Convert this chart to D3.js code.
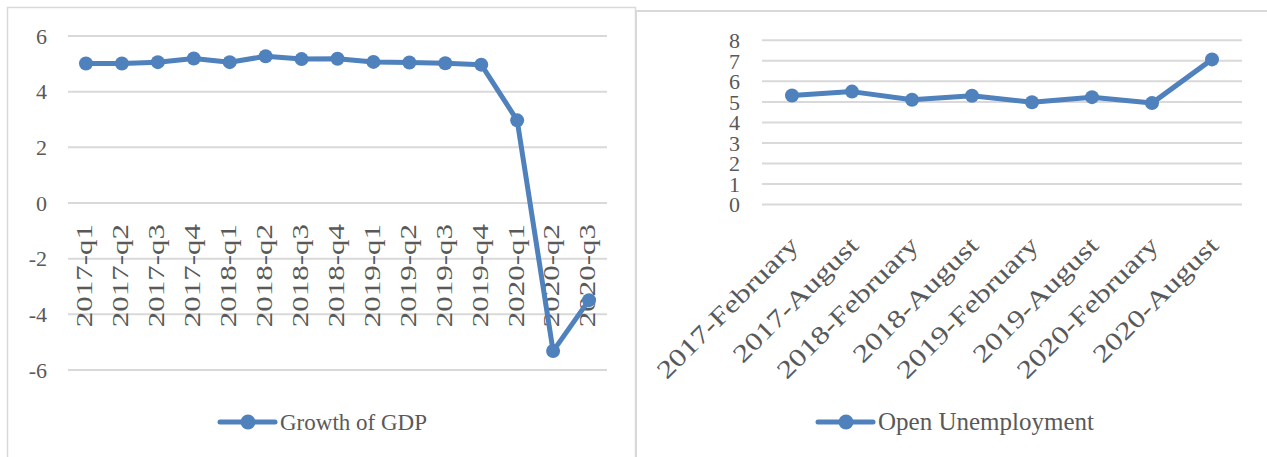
<!DOCTYPE html>
<html>
<head>
<meta charset="utf-8">
<script src="https://cdn.jsdelivr.net/npm/d3@7"></script>
<style>
  body { margin: 0; background: #fff; }
  text { font-family: "Liberation Serif", "DejaVu Serif", serif; fill: #595959; }
</style>
</head>
<body>
<div class="chart"></div>
<script>
// data
const gdpQuarters = ["2017-q1","2017-q2","2017-q3","2017-q4","2018-q1","2018-q2","2018-q3","2018-q4",
                     "2019-q1","2019-q2","2019-q3","2019-q4","2020-q1","2020-q2","2020-q3"];
const gdpGrowth = [5.01, 5.01, 5.06, 5.19, 5.06, 5.27, 5.17, 5.18, 5.07, 5.05, 5.02, 4.97, 2.97, -5.32, -3.49];
const gdpTicks = [-6, -4, -2, 0, 2, 4, 6];

const unempPeriods = ["2017-February","2017-August","2018-February","2018-August",
                      "2019-February","2019-August","2020-February","2020-August"];
const unempRate = [5.31, 5.5, 5.1, 5.3, 4.98, 5.23, 4.94, 7.07];
const unempTicks = [0, 1, 2, 3, 4, 5, 6, 7, 8];

const blue = "#4f81bd", grid = "#d9d9d9";

const svg = d3.select('.chart')
    .append('svg')
    .attr("width", 1267)
    .attr("height", 457);

// panel frames
svg.append("rect").attr("x", 7.5).attr("y", 7.5).attr("width", 628).attr("height", 470)
    .attr("fill", "none").attr("stroke", grid).attr("stroke-width", 1.5);
svg.append("rect").attr("x", 636).attr("y", 11).attr("width", 660).attr("height", 470)
    .attr("fill", "none").attr("stroke", grid).attr("stroke-width", 2);

function drawChart(opt) {
    const g = svg.append("g");
    const x = d3.scaleBand().domain(opt.cats).range(opt.xr).padding(0);
    const y = d3.scaleLinear().domain(opt.yd).range(opt.yr);
    const cx = d => x(d) + x.bandwidth() / 2;

    // gridlines + y labels
    g.selectAll("line.grid").data(opt.ticks).enter().append("line")
        .attr("class", "grid")
        .attr("x1", opt.xr[0]).attr("x2", opt.xr[1])
        .attr("y1", d => y(d)).attr("y2", d => y(d))
        .attr("stroke", grid).attr("stroke-width", 2);
    g.selectAll("text.ytick").data(opt.ticks).enter().append("text")
        .attr("class", "ytick")
        .attr("x", opt.ylabX).attr("y", d => y(d))
        .attr("dy", "0.35em")
        .attr("text-anchor", "end")
        .attr("font-size", 22)
        .text(d => d);

    // category labels
    g.selectAll("text.xtick").data(opt.cats).enter().append("text")
        .attr("class", "xtick")
        .attr("text-anchor", "end")
        .attr("font-size", opt.xfont)
        .attr("dy", opt.xdy)
        .attr("transform", d => `translate(${cx(d) + opt.xoff[0]},${opt.xoff[1]}) rotate(${opt.rot}) scale(${opt.stretch},1)`)
        .text(d => d);

    const pts = opt.cats.map((c, i) => [cx(c), y(opt.vals[i])]);
    g.append("path")
        .attr("d", d3.line()(pts))
        .attr("fill", "none")
        .attr("stroke", blue)
        .attr("stroke-width", 5)
        .attr("stroke-linejoin", "round");
    g.selectAll("circle").data(pts).enter().append("circle")
        .attr("cx", d => d[0]).attr("cy", d => d[1])
        .attr("r", 7).attr("fill", blue);

    // legend
    const lg = g.append("g").attr("transform", `translate(${opt.legX},${opt.legY})`);
    lg.append("line").attr("x1", 0).attr("x2", 55).attr("y1", 0).attr("y2", 0)
        .attr("stroke", blue).attr("stroke-width", 5).attr("stroke-linecap", "round");
    lg.append("circle").attr("cx", 28).attr("cy", 0).attr("r", 7.5).attr("fill", blue);
    lg.append("text").attr("x", 60).attr("y", 0).attr("dy", "0.33em")
        .attr("font-size", opt.legFont)
        .text(opt.name);
}

drawChart({
    cats: gdpQuarters, vals: gdpGrowth, ticks: gdpTicks,
    xr: [68, 607], yd: [-6, 6], yr: [370, 36], ylabX: 47,
    xfont: 23.5, xdy: "0.27em", xoff: [0, 224], rot: -90, stretch: 1.32,
    legX: 220, legY: 422, legFont: 23, name: "Growth of GDP"
});

drawChart({
    cats: unempPeriods, vals: unempRate, ticks: unempTicks,
    xr: [762, 1242], yd: [0, 8], yr: [204.5, 40.3], ylabX: 740,
    xfont: 25, xdy: "0", xoff: [8, 247], rot: -45, stretch: 1.27,
    legX: 818, legY: 422, legFont: 25, name: "Open Unemployment"
});
</script>
</body>
</html>
